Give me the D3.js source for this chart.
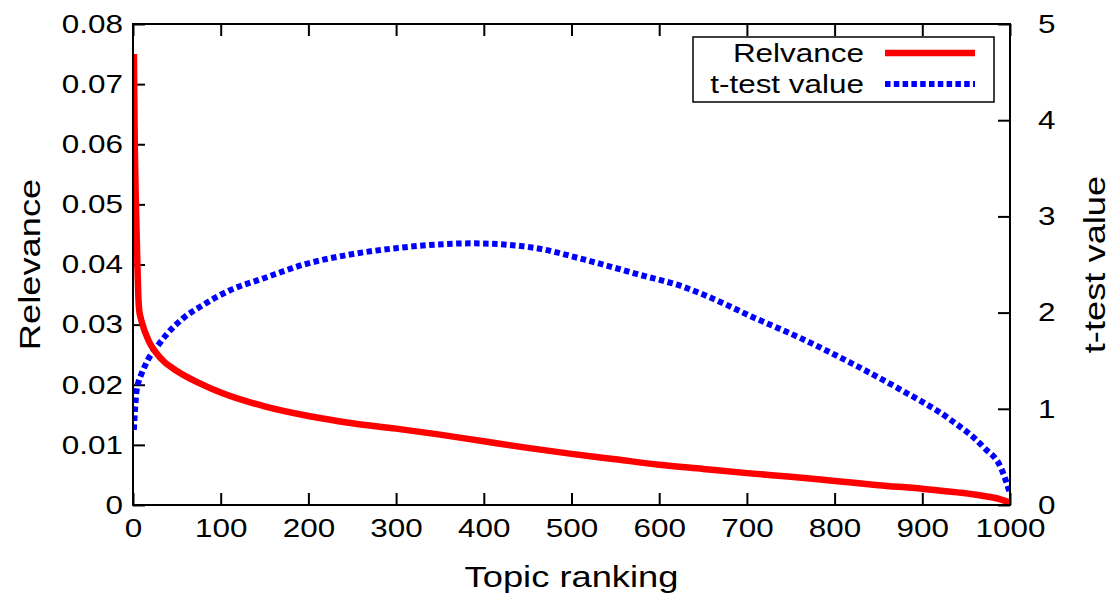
<!DOCTYPE html>
<html>
<head>
<meta charset="utf-8">
<script src="https://cdn.jsdelivr.net/npm/d3@7"></script>
<style>
  body { margin: 0; background: #fff; }
  svg { display: block; }
  text { font-family: "Liberation Sans", Arial, Helvetica, sans-serif; fill: #000; }
</style>
</head>
<body>
<svg id="chart" width="1110" height="597"></svg>
<script>
// Relevance of each topic, by rank
const relRank = [1, 2, 3, 4, 5, 6, 7, 9, 12, 15, 20, 27, 35, 50, 75, 100, 150, 200, 250, 300, 350, 400, 450, 500, 550, 600, 650, 700, 750, 800, 850, 900, 940, 970, 990, 1000];
const relevance = [0.075, 0.060, 0.052, 0.046, 0.040, 0.035, 0.0325, 0.031, 0.0295, 0.0283, 0.0267, 0.0252, 0.0239, 0.0223, 0.0203, 0.0187, 0.0164, 0.0148, 0.0136, 0.0127, 0.0117, 0.0106, 0.0095, 0.0085, 0.0076, 0.0067, 0.0060, 0.0053, 0.0047, 0.0040, 0.0033, 0.0027, 0.0021, 0.0015, 0.0009, 0.0004];

// t-test value, by rank
const tRank = [1, 2, 4, 7, 10, 17, 27, 38, 57, 80, 110, 150, 195, 245, 300, 335, 385, 420, 460, 515, 575, 630, 665, 705, 760, 820, 875, 930, 970, 990, 1000];
const tValue = [0.78, 0.95, 1.18, 1.30, 1.37, 1.51, 1.64, 1.77, 1.94, 2.08, 2.23, 2.36, 2.50, 2.60, 2.67, 2.70, 2.72, 2.71, 2.67, 2.55, 2.40, 2.26, 2.13, 1.96, 1.74, 1.47, 1.20, 0.90, 0.60, 0.38, 0.12];

const xTicks = [0, 100, 200, 300, 400, 500, 600, 700, 800, 900, 1000];
const yTicks = [0, 0.01, 0.02, 0.03, 0.04, 0.05, 0.06, 0.07, 0.08];
const y2Ticks = [0, 1, 2, 3, 4, 5];
const seriesNames = ["Relvance", "t-test value"];
const xTitle = "Topic ranking";
const yTitle = "Relevance";
const y2Title = "t-test value";

const svg = d3.select("#chart");
const plotLeft = 133, plotRight = 1010, plotTop = 24, plotBottom = 505;

const x = d3.scaleLinear().domain([0, 1000]).range([plotLeft, plotRight]);
const y = d3.scaleLinear().domain([0, 0.08]).range([plotBottom, plotTop]);
const y2 = d3.scaleLinear().domain([0, 5]).range([plotBottom, plotTop]);

const tickFont = "26px";
const titleFont = "30px";
const textStretch = 1.21;   // wide Helvetica-style lettering

// Move a text's x/y into a transform so it can be widened about its anchor
function widen(sel) {
  sel.each(function () {
    const t = d3.select(this);
    const tx = +t.attr("x") || 0, ty = +t.attr("y") || 0;
    t.attr("x", null).attr("y", null)
      .attr("transform", `translate(${tx},${ty}) scale(${textStretch},1)`);
  });
}

svg.append("defs").append("clipPath").attr("id", "plotClip")
  .append("rect")
  .attr("x", plotLeft).attr("y", plotTop)
  .attr("width", plotRight - plotLeft).attr("height", plotBottom - plotTop);

// Axes with inward ticks
function styleAxis(g) {
  g.select(".domain").remove();
  g.selectAll(".tick line").attr("stroke", "#000").attr("stroke-width", 2);
  g.selectAll(".tick text").style("font-size", tickFont).attr("fill", "#000").call(widen);
}

const fmtY = d => d === 0 ? "0" : d3.format(".2f")(d);

svg.append("g")
  .attr("transform", `translate(0,${plotBottom})`)
  .call(d3.axisBottom(x).tickValues(xTicks).tickSize(-12).tickPadding(14).tickFormat(d3.format("d")))
  .call(styleAxis);

svg.append("g")
  .attr("transform", `translate(0,${plotTop})`)
  .call(d3.axisTop(x).tickValues(xTicks).tickSize(-12).tickFormat(""))
  .call(styleAxis);

svg.append("g")
  .attr("transform", `translate(${plotLeft},0)`)
  .call(d3.axisLeft(y).tickValues(yTicks).tickSize(-12).tickPadding(10).tickFormat(fmtY))
  .call(styleAxis);

svg.append("g")
  .attr("transform", `translate(${plotRight},0)`)
  .call(d3.axisRight(y2).tickValues(y2Ticks).tickSize(-12).tickPadding(28).tickFormat(d3.format("d")))
  .call(styleAxis);

// Series
const plot = svg.append("g").attr("clip-path", "url(#plotClip)");

const relLine = d3.line()
  .x((d, i) => x(relRank[i]))
  .y(d => y(d))
  .curve(d3.curveMonotoneX);

const tLine = d3.line()
  .x((d, i) => x(tRank[i]))
  .y(d => y2(d))
  .curve(d3.curveMonotoneX);

plot.append("path")
  .datum(tValue)
  .attr("d", tLine)
  .attr("fill", "none")
  .attr("stroke", "#0000ff")
  .attr("stroke-width", 6)
  .attr("stroke-dasharray", "5.5,3.5");

plot.append("path")
  .datum(relevance)
  .attr("d", relLine)
  .attr("fill", "none")
  .attr("stroke", "#ff0000")
  .attr("stroke-width", 6.5)
  .attr("stroke-linejoin", "round");

// Frame
svg.append("rect")
  .attr("x", plotLeft).attr("y", plotTop)
  .attr("width", plotRight - plotLeft).attr("height", plotBottom - plotTop)
  .attr("fill", "none").attr("stroke", "#000").attr("stroke-width", 2);

// Axis titles
svg.append("text")
  .attr("transform", `translate(${(plotLeft + plotRight) / 2},587) scale(${textStretch},1)`)
  .attr("text-anchor", "middle")
  .style("font-size", titleFont)
  .text(xTitle);

svg.append("text")
  .attr("transform", `translate(40,${(plotTop + plotBottom) / 2}) rotate(-90) scale(${textStretch},1)`)
  .attr("text-anchor", "middle")
  .style("font-size", titleFont)
  .text(yTitle);

svg.append("text")
  .attr("transform", `translate(1105,${(plotTop + plotBottom) / 2}) rotate(-90) scale(${textStretch},1)`)
  .attr("text-anchor", "middle")
  .style("font-size", titleFont)
  .text(y2Title);

// Legend
const legend = svg.append("g");
legend.append("rect")
  .attr("x", 693).attr("y", 37).attr("width", 301).attr("height", 65)
  .attr("fill", "#fff").attr("stroke", "#000").attr("stroke-width", 1.5);

const legendRows = [
  { name: seriesNames[0], color: "#ff0000", width: 6.5, dash: null, cy: 53 },
  { name: seriesNames[1], color: "#0000ff", width: 6, dash: "5.5,3.3", cy: 84 }
];
legendRows.forEach(r => {
  legend.append("text")
    .attr("transform", `translate(864,${r.cy}) scale(${textStretch},1)`)
    .attr("dy", "0.35em")
    .attr("text-anchor", "end")
    .style("font-size", tickFont)
    .text(r.name);
  legend.append("line")
    .attr("x1", 885).attr("x2", 975)
    .attr("y1", r.cy).attr("y2", r.cy)
    .attr("stroke", r.color)
    .attr("stroke-width", r.width)
    .attr("stroke-dasharray", r.dash);
});
</script>
</body>
</html>
